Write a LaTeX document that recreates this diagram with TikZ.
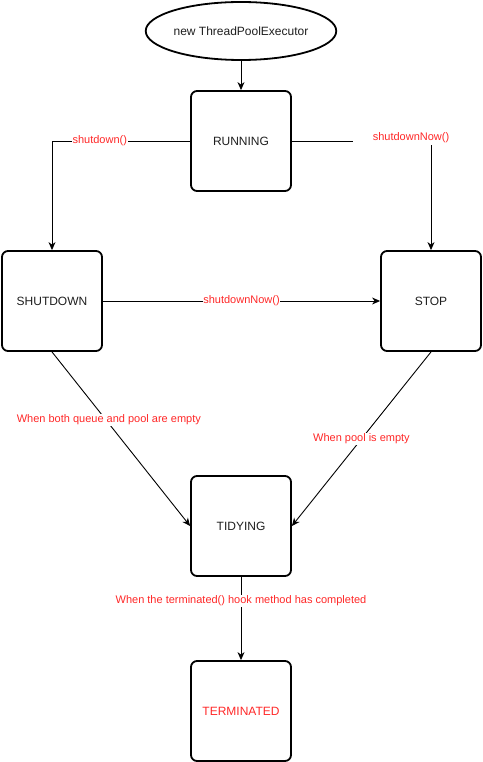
\documentclass[tikz,border=0pt]{standalone}
\usepackage{fontspec}
\setmainfont{Liberation Sans}
\usetikzlibrary{shapes.geometric,arrows.meta}
\definecolor{lblred}{RGB}{255,40,40}
\definecolor{txtgray}{RGB}{30,30,30}
\begin{document}
\begin{tikzpicture}[x=1pt,y=-1pt,
  statebox/.style={draw,line width=1.8pt,rounded corners=6pt,minimum width=100pt,minimum height=100pt,inner sep=0pt,font=\fontsize{12}{14}\selectfont,text=txtgray},
  startell/.style={draw,ellipse,line width=1.8pt,minimum width=160pt,minimum height=58pt,inner sep=0pt,font=\fontsize{12}{14}\selectfont,text=txtgray},
  conn/.style={draw,line width=0.9pt,-{Stealth[length=8pt,width=7pt,inset=2.5pt]}},
  lbl/.style={fill=white,inner sep=0.6pt,text=lblred,font=\fontsize{11}{13}\selectfont}]
\useasboundingbox (0,0) rectangle (482,762);
\node[startell] (start) at (241,31) {new ThreadPoolExecutor};
\node[statebox] (running) at (241,141) {RUNNING};
\node[statebox] (shutdown) at (52,301) {SHUTDOWN};
\node[statebox] (stop) at (431,301) {STOP};
\node[statebox] (tidying) at (241,526) {TIDYING};
\node[statebox,text=lblred] (terminated) at (241,711) {TERMINATED};

\draw[conn] (start) -- (running);
\draw[conn] (running.west) -| node[lbl,pos=0.327] {shutdown()} (shutdown.north);
\draw[conn] (running.east) -| (stop.north);
\node[lbl,minimum width=116pt,minimum height=14pt,inner sep=0pt] (snlbl) at (411,138) {shutdownNow()};
\draw[conn] (shutdown.east) -- node[lbl] {shutdownNow()} (stop.west);
\draw[conn] (shutdown.south) -- node[lbl,pos=0.39,xshift=3pt] {When both queue and pool are empty} (tidying.west);
\draw[conn] (stop.south) -- node[lbl,pos=0.5] {When pool is empty} (tidying.east);
\draw[conn] (tidying.south) -- node[lbl,pos=0.29] {When the terminated() hook method has completed} (terminated.north);
\end{tikzpicture}
\end{document}
